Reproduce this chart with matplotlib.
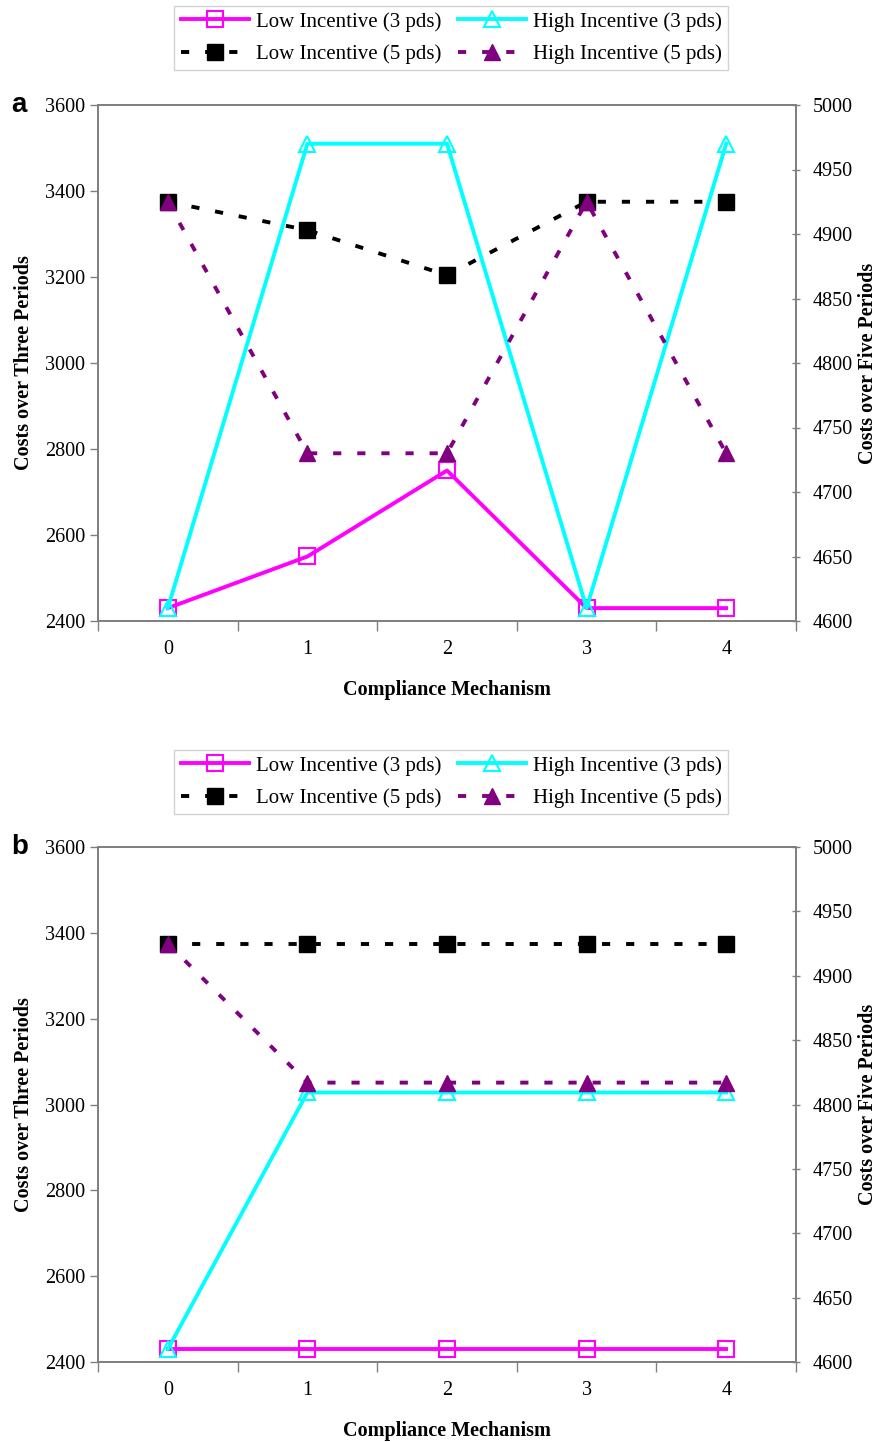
import matplotlib
matplotlib.use("Agg")
import matplotlib.pyplot as plt
from matplotlib.ticker import FixedLocator, NullFormatter

plt.rcParams['font.family'] = ['Liberation Serif', 'DejaVu Serif']

mechanisms = [0, 1, 2, 3, 4]

# panel a
a_low3 = [2430, 2550, 2750, 2430, 2430]
a_high3 = [2430, 3510, 3510, 2430, 3510]
a_low5 = [4925, 4903, 4868, 4925, 4925]
a_high5 = [4925, 4730, 4730, 4925, 4730]

# panel b
b_low3 = [2430, 2430, 2430, 2430, 2430]
b_high3 = [2430, 3028, 3028, 3028, 3028]
b_low5 = [4925, 4925, 4925, 4925, 4925]
b_high5 = [4925, 4817, 4817, 4817, 4817]

left_ticks = [2400, 2600, 2800, 3000, 3200, 3400, 3600]
right_ticks = [4600, 4650, 4700, 4750, 4800, 4850, 4900, 4950, 5000]

labels = ["Low Incentive (3 pds)", "High Incentive (3 pds)",
          "Low Incentive (5 pds)", "High Incentive (5 pds)"]

W, H = 885, 1442
fig = plt.figure(figsize=(W / 100, H / 100), dpi=100)

SPINE = "#808080"
FS = 14.5
LW = 2.8
DASH = (0, (2.1, 4.1))


def panel(top_px, bottom_px, low3, high3, low5, high5, letter, legend_y):
    left_px, right_px = 98, 796
    ax = fig.add_axes([left_px / W, 1 - bottom_px / H,
                       (right_px - left_px) / W, (bottom_px - top_px) / H])
    ax2 = ax.twinx()

    l1, = ax.plot(mechanisms, low3, color="#FF00FF", lw=LW, marker="s",
                  ms=11, mfc="none", mec="#FF00FF", mew=1.5)
    l2, = ax.plot(mechanisms, high3, color="#00FFFF", lw=LW, marker="^",
                  ms=11, mfc="none", mec="#00FFFF", mew=1.5)
    l3, = ax2.plot(mechanisms, low5, color="black", lw=LW, ls=DASH,
                   marker="s", ms=11.5, mfc="black", mec="black")
    l4, = ax2.plot(mechanisms, high5, color="#800080", lw=LW, ls=DASH,
                   marker="^", ms=12, mfc="#800080", mec="#800080")

    ax.set_xlim(-0.5, 4.5)
    ax.set_ylim(2400, 3600)
    ax2.set_ylim(4600, 5000)
    ax.set_yticks(left_ticks)
    ax2.set_yticks(right_ticks)
    ax.set_xticks(mechanisms)
    ax.xaxis.set_minor_locator(FixedLocator([-0.5, 0.5, 1.5, 2.5, 3.5, 4.5]))
    ax.xaxis.set_minor_formatter(NullFormatter())
    ax.tick_params(axis="x", which="major", length=0, pad=14, labelsize=FS)
    ax.tick_params(axis="x", which="minor", length=7, direction="out",
                   color=SPINE, width=1)
    ax.tick_params(axis="y", length=6, direction="out", color=SPINE,
                   width=1, labelsize=FS, pad=3)
    ax2.tick_params(axis="y", length=6, direction="inout", color=SPINE,
                    width=1, labelsize=FS, pad=9)

    for a in (ax, ax2):
        for s in a.spines.values():
            s.set_color(SPINE)
            s.set_linewidth(1.3)

    ax.set_xlabel("Compliance Mechanism", fontsize=FS, fontweight="bold",
                  labelpad=15)
    ax.set_ylabel("Costs over Three Periods", fontsize=FS, fontweight="bold",
                  labelpad=8)
    ax2.set_ylabel("Costs over Five Periods", fontsize=FS, fontweight="bold",
                   rotation=90, labelpad=4)

    fig.text(11 / W, 1 - top_px / H, letter, fontsize=20, fontweight="bold",
             family=["Liberation Sans", "DejaVu Sans"], va="center", ha="left")

    fig.legend([l1, l3, l2, l4], [labels[0], labels[2], labels[1], labels[3]],
               ncol=2, loc="center", bbox_to_anchor=(451 / W, 1 - legend_y / H),
               fontsize=15, frameon=True, fancybox=False, edgecolor="#C8C8C8",
               handlelength=3.3, handletextpad=0.3, columnspacing=0.8,
               labelspacing=0.6, borderpad=0.3, borderaxespad=0)


panel(105, 621, a_low3, a_high3, a_low5, a_high5, "a", 38)
panel(847, 1362, b_low3, b_high3, b_low5, b_high5, "b", 782)

fig.savefig("out.png", dpi=100)
